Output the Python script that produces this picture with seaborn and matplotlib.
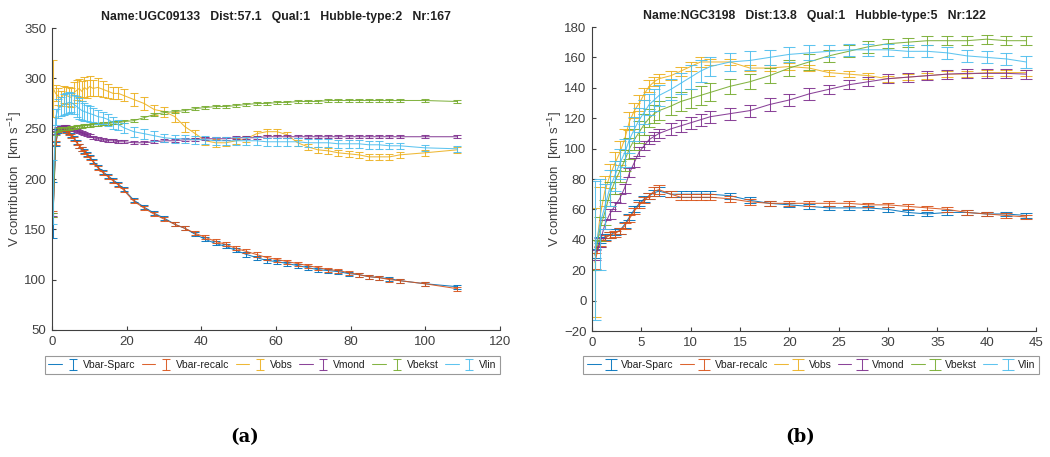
import matplotlib
matplotlib.use("Agg")
import matplotlib.pyplot as plt
import seaborn as sns
from matplotlib.legend_handler import HandlerTuple

# ---------------- data: panel (a) UGC09133 ----------------
title_a = "Name:UGC09133   Dist:57.1   Qual:1   Hubble-type:2   Nr:167"
R_a = [0.3, 1.0, 1.7, 2.4, 3.1, 3.8, 4.5, 5.2, 5.9, 6.6, 7.3, 8.0, 8.7, 9.4, 10.1,
       11.0, 12.3, 13.7, 15.1, 16.4, 17.8, 19.2,
       21.9, 24.7, 27.4, 30.1, 32.9, 35.6, 38.4, 41.1, 43.8, 46.6, 49.3, 52.1, 54.8,
       57.5, 60.3, 63.0, 65.8, 68.5, 71.2, 74.0, 76.7, 79.5, 82.2, 84.9, 87.7, 90.4, 93.2,
       99.8, 108.6]
vbar_sparc_a = [169, 235, 248, 251, 250, 249, 247, 244, 241, 237, 233, 230, 228, 225, 222,
                218, 212, 207, 203, 199, 195, 190,
                179, 172, 166, 161, 155, 151, 145, 140, 136, 133, 129, 125, 122,
                119, 118, 116, 114, 112, 110, 109, 108, 106, 105, 103, 102, 101, 99,
                96, 93]
vbar_recalc_a = [165, 236, 249, 251, 250, 248, 246, 243, 240, 236, 233, 230, 227, 224, 221,
                 217, 211, 206, 202, 198, 194, 189,
                 178, 171, 165, 160, 155, 151, 146, 142, 138, 135, 131, 128, 125,
                 122, 120, 118, 116, 114, 112, 110, 109, 107, 105, 103, 102, 100, 99,
                 96, 91]
vobs_a = [290, 285, 282, 280, 284, 283, 282, 281, 286, 288, 290, 287, 291, 289, 292,
          290, 291, 289, 287, 285, 285, 283,
          279, 275, 269, 267, 262, 252, 245, 238, 236, 236, 238, 240, 245,
          247, 247, 244, 236, 232, 229, 228, 226, 225, 224, 222, 222, 222, 224,
          226, 229]
vmond_a = [165, 246, 250, 251, 252, 252, 251, 250, 249, 248, 247, 246, 245, 244, 243,
           241, 240, 239, 238, 238, 237, 237,
           236, 236, 237, 238, 238, 239, 239, 240, 240, 240, 241, 241, 241,
           242, 242, 242, 242, 242, 242, 242, 242, 242, 242, 242, 242, 242, 242,
           242, 242]
vbekst_a = [164, 245, 249, 250, 250, 250, 250, 251, 251, 252, 252, 252, 253, 253, 253,
            254, 254, 255, 255, 256, 256, 257,
            258, 261, 264, 266, 267, 268, 270, 271, 272, 272, 273, 274, 275,
            275, 276, 276, 277, 277, 277, 278, 278, 278, 278, 278, 278, 278, 278,
            278, 277]
vlin_a = [187, 262, 270, 272, 274, 275, 276, 276, 274, 272, 270, 268, 267, 266, 265,
          264, 262, 261, 259, 256, 254, 251,
          247, 245, 243, 241, 240, 240, 239, 239, 238, 238, 238, 238, 238,
          237, 237, 237, 237, 236, 236, 236, 235, 235, 235, 234, 234, 233, 233,
          231, 230]
err_sparc_a = [28] + [2] * 50
err_recalc_a = [3] + [2] * 50
err_obs_a = ([28, 8, 8, 7, 8, 8, 9, 9, 10, 10, 9, 10, 10, 9, 10,
              8, 9, 8, 7, 6, 6, 6,
              6, 6, 5, 5, 5, 5, 4, 4, 4, 3, 3, 3, 3, 3, 3, 3, 3, 3, 3, 3, 3, 3, 3, 3, 3, 3, 3,
              3, 3])
err_mond_a = [1.5] * 51
err_bekst_a = [2] + [1.5] * 50
err_lin_a = ([32, 8, 9, 9, 10, 10, 10, 9, 9, 10, 10, 9, 9, 8, 8,
              7, 7, 6, 6, 6, 5, 5,
              5, 5, 5, 4, 4, 4, 4, 4, 4, 4, 4, 4, 4, 4, 4, 4, 4, 4, 4, 4, 4, 4, 4, 4, 4, 3, 3,
              3, 3])

# ---------------- data: panel (b) NGC3198 ----------------
title_b = "Name:NGC3198   Dist:13.8   Qual:1   Hubble-type:5   Nr:122"
R_b = [0.3, 0.8, 1.3, 1.8, 2.3, 2.8, 3.3, 3.8, 4.3, 4.8, 5.3, 5.8, 6.3, 6.8,
       8, 9, 10, 11, 12, 14, 16, 18, 20, 22, 24, 26, 28, 30, 32, 34, 36, 38, 40, 42, 44]
vbar_sparc_b = [31, 40, 42, 43, 45, 46, 50, 55, 60, 64, 67, 69, 71, 72,
                70, 70, 70, 70, 70, 69, 66, 64, 63, 62, 61, 61, 61, 60, 58, 57, 58, 58, 57, 57, 56]
vbar_recalc_b = [26, 38, 41, 43, 44, 46, 49, 54, 59, 63, 66, 69, 72, 73,
                 70, 68, 68, 68, 68, 67, 65, 64, 64, 64, 64, 64, 63, 63, 62, 61, 60, 58, 57, 56, 55]
vobs_b = [25, 55, 72, 82, 90, 97, 106, 118, 125, 130, 136, 141, 144, 146,
          148, 151, 154, 157, 157, 157, 153, 153, 154, 153, 150, 149, 148, 146, 147, 148, 149, 149, 150, 150, 150]
vmond_b = [30, 38, 50, 57, 62, 67, 74, 84, 91, 98, 102, 106, 108, 110,
           113, 115, 117, 119, 121, 123, 125, 129, 132, 136, 139, 142, 144, 146, 147, 148, 149, 149.5, 149.5, 149.5, 149]
vbekst_b = [30, 47, 58, 70, 78, 85, 92, 100, 106, 111, 116, 120, 123, 125,
            128, 131, 133, 135, 137, 141, 144, 148, 153, 157, 161, 164, 167, 169, 170, 171, 171, 171, 172, 171, 171]
vlin_b = [33, 50, 62, 74, 82, 90, 97, 106, 113, 119, 124, 129, 132, 135,
          139, 143, 147, 151, 154, 157, 158, 160, 162, 163, 164, 165, 165, 165, 164, 164, 163, 161, 160, 159, 157]
err_sparc_b = [3, 2, 2, 2, 2, 2, 2, 2, 2, 2, 2, 2, 2, 3,
               2, 2, 2, 2, 2, 2, 2, 1.5, 1.5, 1.5, 1.5, 1.5, 1.5, 1.5, 1.5, 1.5, 1.5, 1.5, 1.5, 1.5, 1.5]
err_recalc_b = [5, 2, 2, 2, 2, 2, 2, 2, 2, 2, 2, 2, 3, 3,
                2, 2, 2, 2, 2, 2, 2, 1.5, 1.5, 1.5, 1.5, 1.5, 1.5, 1.5, 1.5, 1.5, 1.5, 1.5, 1.5, 1.5, 1.5]
err_obs_b = [36, 20, 10, 8, 8, 8, 7, 6, 5, 5, 4, 4, 3, 3,
             3, 3, 3, 3, 2, 2, 2, 2, 2, 2, 2, 2, 2, 2, 2, 2, 2, 2, 2, 2, 2]
err_mond_b = [3, 3, 3, 3, 3, 3, 3, 3, 3, 3, 3, 3, 3, 3,
              4, 4, 4, 4, 4, 4, 4, 4, 4, 4, 3, 3, 3, 3, 3, 3, 3, 3, 3, 3, 3]
err_bekst_b = [10, 8, 8, 8, 8, 7, 7, 7, 7, 7, 7, 6, 6, 6,
               6, 6, 6, 6, 6, 5, 5, 5, 5, 5, 4, 4, 4, 3, 3, 3, 3, 3, 3, 3, 3]
err_lin_b = [46, 30, 15, 12, 10, 10, 9, 9, 8, 8, 8, 7, 7, 7,
             7, 7, 8, 7, 6, 6, 6, 5, 5, 5, 4, 4, 4, 4, 4, 4, 4, 4, 4, 4, 4]

series_names = ["Vbar-Sparc", "Vbar-recalc", "Vobs", "Vmond", "Vbekst", "Vlin"]
colors = ["#0072BD", "#D95319", "#EDB120", "#7E2F8E", "#77AC30", "#4DBEEE"]

# ---------------- style ----------------
sns.set_theme(style="white")
plt.rcParams["font.family"] = ["Liberation Sans", "DejaVu Sans"]
plt.rcParams["mathtext.fontset"] = "custom"
plt.rcParams["mathtext.rm"] = "Liberation Sans"
plt.rcParams["mathtext.it"] = "Liberation Sans"

AXC = "#404040"

fig = plt.figure(figsize=(10.5, 4.57), dpi=100)
fig.patch.set_facecolor("white")
axA = fig.add_axes([0.0495, 0.2779, 0.4267, 0.6608])
axB = fig.add_axes([0.5638, 0.2757, 0.4229, 0.6652])


def draw(ax, R, vals, errs, title, xlim, xticks, ylim, yticks, legend_x, cap):
    handles = []
    for name, c, v, e in zip(series_names, colors, vals, errs):
        sns.lineplot(x=R, y=v, ax=ax, color=c, linewidth=0.75, legend=False,
                     errorbar=None, sort=False, alpha=0.9)
        line = ax.lines[-1]
        cont = ax.errorbar(R, v, yerr=e, fmt="none", ecolor=c, elinewidth=0.75,
                           capsize=cap, capthick=0.75, alpha=0.9)
        handles.append((line, cont))
    ax.set_xlim(*xlim)
    ax.set_ylim(*ylim)
    ax.set_xticks(xticks)
    ax.set_yticks(yticks)
    for s in ["top", "right"]:
        ax.spines[s].set_visible(False)
    for s in ["left", "bottom"]:
        ax.spines[s].set_color(AXC)
        ax.spines[s].set_linewidth(0.8)
    ax.tick_params(direction="in", length=3, width=0.8, colors=AXC,
                   labelsize=9.5, pad=4, bottom=True, left=True)
    ax.set_ylabel(r"V contribution  [km s$^{-1}$]", fontsize=9.5, color=AXC, labelpad=0)
    ax.set_title(title, fontsize=8.8, fontweight="bold", color="#202020", pad=6)
    leg = fig.legend(handles, series_names, loc="center",
                     bbox_to_anchor=(legend_x, 0.2013), bbox_transform=fig.transFigure,
                     ncol=6, fontsize=7.5, frameon=True, fancybox=False,
                     handlelength=3.0, handletextpad=0.3, columnspacing=0.6,
                     borderpad=0.35, borderaxespad=0, numpoints=1,
                     handler_map={tuple: HandlerTuple(ndivide=None)})
    leg.get_frame().set_edgecolor("#808080")
    leg.get_frame().set_linewidth(0.8)
    for t in leg.get_texts():
        t.set_color("#202020")


draw(axA, R_a,
     [vbar_sparc_a, vbar_recalc_a, vobs_a, vmond_a, vbekst_a, vlin_a],
     [err_sparc_a, err_recalc_a, err_obs_a, err_mond_a, err_bekst_a, err_lin_a],
     title_a, (0, 120), list(range(0, 121, 20)), (50, 350), list(range(50, 351, 50)),
     0.2595, 3)

draw(axB, R_b,
     [vbar_sparc_b, vbar_recalc_b, vobs_b, vmond_b, vbekst_b, vlin_b],
     [err_sparc_b, err_recalc_b, err_obs_b, err_mond_b, err_bekst_b, err_lin_b],
     title_b, (0, 45), list(range(0, 46, 5)), (-20, 180), list(range(-20, 181, 20)),
     0.7724, 4)

fig.text(0.2333, 0.044, "(a)", ha="center", va="center", fontsize=13,
         fontweight="bold", family=["DejaVu Serif"], color="black")
fig.text(0.7619, 0.044, "(b)", ha="center", va="center", fontsize=13,
         fontweight="bold", family=["DejaVu Serif"], color="black")

fig.savefig("out.png", dpi=100, facecolor="white")
